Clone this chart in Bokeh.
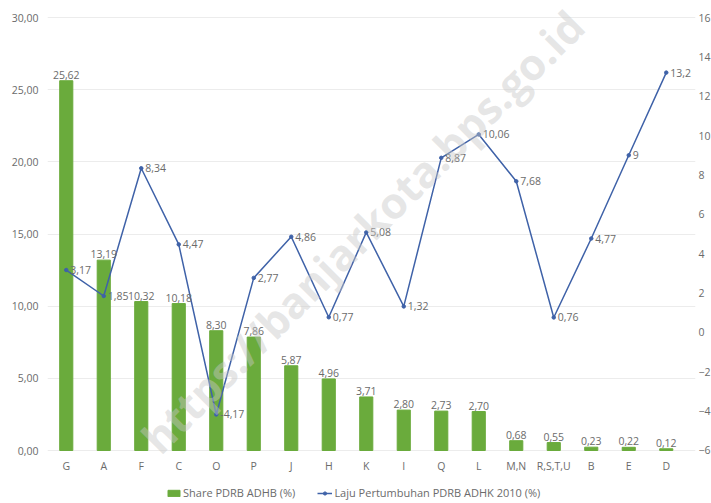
from bokeh.plotting import figure
from bokeh.models import (ColumnDataSource, Range1d, LinearAxis, FixedTicker,
                          Legend, LegendItem, LabelSet, Label)
from bokeh.core.properties import value
from bokeh.embed import file_html
from bokeh.resources import INLINE

categories = ["G", "A", "F", "C", "O", "P", "J", "H", "K", "I", "Q", "L",
              "M,N", "R,S,T,U", "B", "E", "D"]
share = [25.62, 13.19, 10.32, 10.18, 8.30, 7.86, 5.87, 4.96, 3.71, 2.80,
         2.73, 2.70, 0.68, 0.55, 0.23, 0.22, 0.12]
growth = [3.17, 1.85, 8.34, 4.47, -4.17, 2.77, 4.86, 0.77, 5.08, 1.32,
          8.87, 10.06, 7.68, 0.76, 4.77, 9, 13.2]
left_ticks = [0, 5, 10, 15, 20, 25, 30]
right_ticks = [-6, -4, -2, 0, 2, 4, 6, 8, 10, 12, 14, 16]

FONT = "Open Sans"
TXT = "#6b6b6b"
GREEN = "#6aab3c"
BLUE = "#3f62a8"
FS = "10.5px"


def fmt_share(v):
    return f"{v:.2f}".replace(".", ",")


def fmt_growth(v):
    return f"{v:g}".replace(".", ",")


idx = list(range(len(categories)))
src = ColumnDataSource(dict(
    x=idx, cat=categories, share=share, growth=growth,
    zero=[0] * len(idx),
    share_lbl=[fmt_share(v) for v in share],
    growth_lbl=[fmt_growth(v) for v in growth],
))

# frame spans the whole height: 30 sits at 17px, 0 at 450px
p = figure(x_range=Range1d(-0.5, 16.78), y_range=Range1d(-3.672, 31.178),
           frame_width=648, frame_height=503, output_backend="svg",
           toolbar_location=None, x_axis_location=None,
           min_border_left=47, min_border_right=15, min_border_top=0,
           min_border_bottom=0)
p.outline_line_color = None
p.background_fill_color = "white"
p.extra_y_ranges = {"growth": Range1d(-8.693, 16.864)}

bars = p.vbar(x="x", top="share", width=0.35, source=src, color=GREEN)
line = p.line(x="x", y="growth", source=src, y_range_name="growth",
              line_color=BLUE, line_width=1.5)
pts = p.scatter(x="x", y="growth", source=src, y_range_name="growth",
                size=3.5, color=BLUE)

p.add_layout(LabelSet(x="x", y="share", text="share_lbl", source=src,
                      text_align="center", text_baseline="bottom", y_offset=2,
                      text_font=value(FONT), text_font_size=FS,
                      text_color=TXT))
p.add_layout(LabelSet(x="x", y="growth", text="growth_lbl", source=src,
                      y_range_name="growth", text_align="left",
                      text_baseline="middle", x_offset=4,
                      text_font=value(FONT), text_font_size=FS,
                      text_color=TXT))
# category labels under the baseline
p.add_layout(LabelSet(x="x", y="zero", text="cat", source=src,
                      text_align="center", text_baseline="middle",
                      y_offset=-15, text_font=value(FONT), text_font_size=FS,
                      text_color=TXT))

# watermark
p.add_layout(Label(x=7.9, y=15.17, text="https://banjarkota.bps.go.id",
                   angle=45, angle_units="deg", text_align="center",
                   text_baseline="middle", text_font=FONT,
                   text_font_size="43px", text_font_style="bold",
                   text_color="#c8c8c8", text_alpha=0.45))

# axes
la = p.yaxis[0]
la.ticker = FixedTicker(ticks=left_ticks)
la.major_label_overrides = {t: f"{t:.2f}".replace(".", ",") for t in left_ticks}
ra = LinearAxis(y_range_name="growth", ticker=FixedTicker(ticks=right_ticks))
p.add_layout(ra, "right")
for ax in [la, ra]:
    ax.axis_line_color = None
    ax.major_tick_line_color = None
    ax.minor_tick_line_color = None
    ax.major_tick_out = 0
    ax.major_tick_in = 0
    ax.minor_tick_out = 0
    ax.major_label_text_font = FONT
    ax.major_label_text_font_size = FS
    ax.major_label_text_color = TXT
la.major_label_standoff = 9
ra.major_label_standoff = 3

p.xgrid.grid_line_color = None
p.ygrid.grid_line_color = "#ececec"

legend = Legend(items=[LegendItem(label="Share PDRB ADHB (%)", renderers=[bars]),
                       LegendItem(label="Laju Pertumbuhan PDRB ADHK 2010 (%)",
                                  renderers=[line, pts])],
                orientation="horizontal", location=(119, 3),
                label_text_font=FONT, label_text_font_size="11px",
                label_text_color=TXT, border_line_color=None,
                background_fill_alpha=0,
                glyph_width=15, glyph_height=8, label_height=12,
                spacing=22, padding=2, margin=0, label_standoff=2)
p.add_layout(legend, "center")

open("out.html", "w").write(file_html(p, INLINE))
